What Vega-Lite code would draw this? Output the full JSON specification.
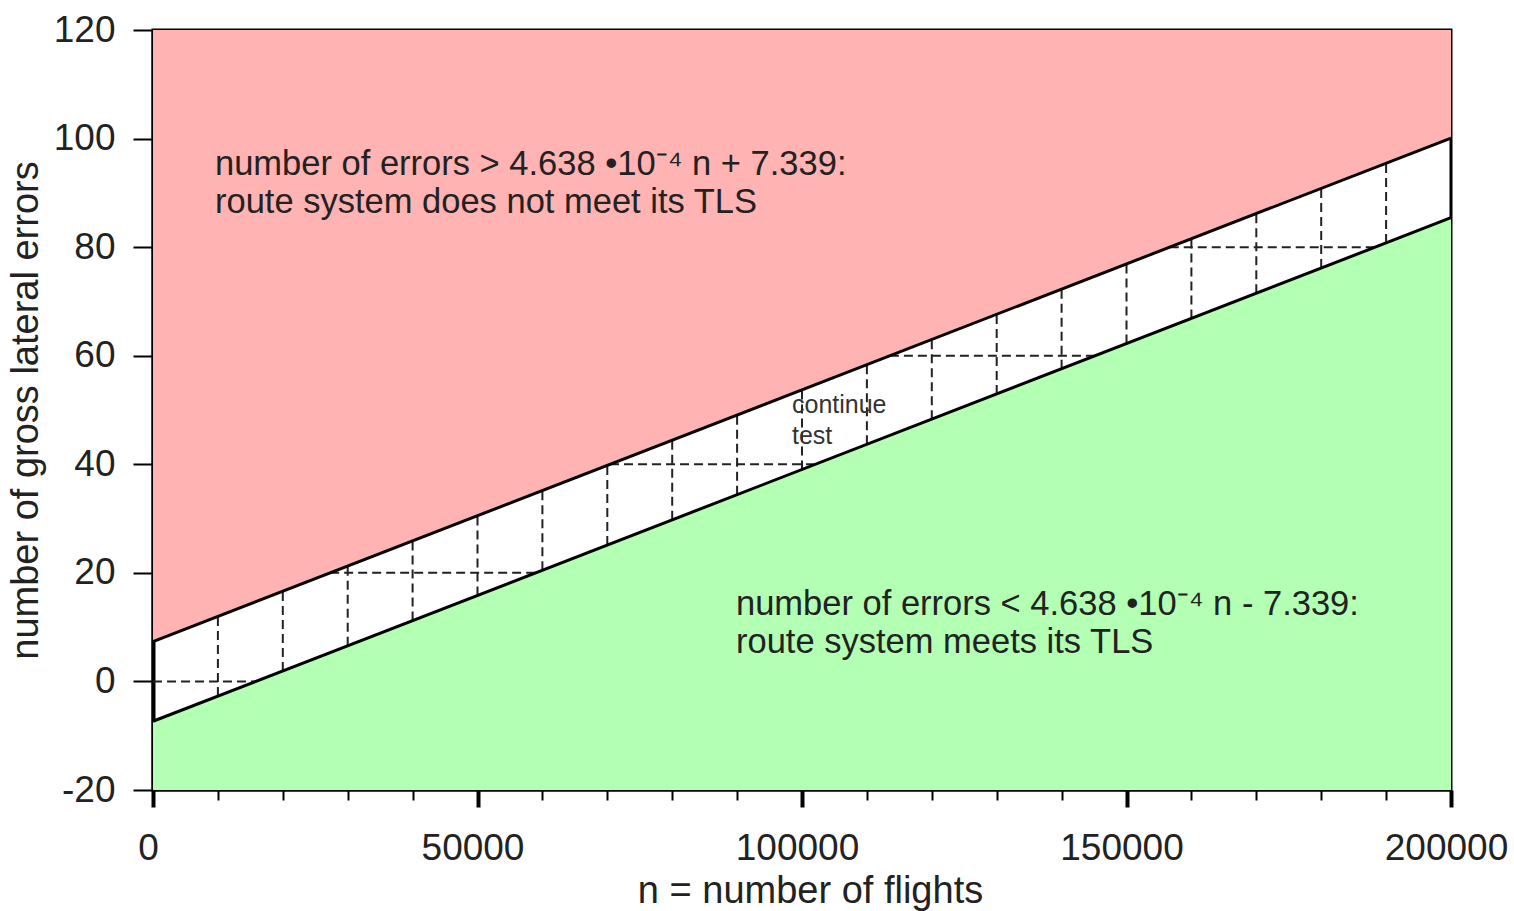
{
  "$schema": "https://vega.github.io/schema/vega-lite/v6.json",
  "width": 1298,
  "height": 760,
  "autosize": "none",
  "padding": {"left": 153, "top": 30, "right": 63, "bottom": 121},
  "background": "white",
  "config": {"view": {"stroke": "black", "strokeWidth": 3}, "font": "Liberation Sans"},
  "datasets": {
    "bands": [
      {"n": 0, "up": 7.339, "lo": -7.339},
      {"n": 200000, "up": 100.099, "lo": 85.421}
    ],
    "grid": [
      {"n": 0, "n2": 15824, "v": 0, "v2": 0},
      {"n": 27298, "n2": 58946, "v": 20, "v2": 20},
      {"n": 70420, "n2": 102068, "v": 40, "v2": 40},
      {"n": 113542, "n2": 145190, "v": 60, "v2": 60},
      {"n": 156663, "n2": 188312, "v": 80, "v2": 80},
      {"n": 10000, "n2": 10000, "v": -2.701, "v2": 11.977},
      {"n": 20000, "n2": 20000, "v": 1.937, "v2": 16.615},
      {"n": 30000, "n2": 30000, "v": 6.575, "v2": 21.253},
      {"n": 40000, "n2": 40000, "v": 11.213, "v2": 25.891},
      {"n": 50000, "n2": 50000, "v": 15.851, "v2": 30.529},
      {"n": 60000, "n2": 60000, "v": 20.489, "v2": 35.167},
      {"n": 70000, "n2": 70000, "v": 25.127, "v2": 39.805},
      {"n": 80000, "n2": 80000, "v": 29.765, "v2": 44.443},
      {"n": 90000, "n2": 90000, "v": 34.403, "v2": 49.081},
      {"n": 100000, "n2": 100000, "v": 39.041, "v2": 53.719},
      {"n": 110000, "n2": 110000, "v": 43.679, "v2": 58.357},
      {"n": 120000, "n2": 120000, "v": 48.317, "v2": 62.995},
      {"n": 130000, "n2": 130000, "v": 52.955, "v2": 67.633},
      {"n": 140000, "n2": 140000, "v": 57.593, "v2": 72.271},
      {"n": 150000, "n2": 150000, "v": 62.231, "v2": 76.909},
      {"n": 160000, "n2": 160000, "v": 66.869, "v2": 81.547},
      {"n": 170000, "n2": 170000, "v": 71.507, "v2": 86.185},
      {"n": 180000, "n2": 180000, "v": 76.145, "v2": 90.823},
      {"n": 190000, "n2": 190000, "v": 80.783, "v2": 95.461}
    ],
    "notes": [
      {"n": 9550, "v": 93.3, "t": "number of errors > 4.638 •10⁻⁴ n + 7.339:"},
      {"n": 9550, "v": 86.3, "t": "route system does not meet its TLS"},
      {"n": 89830, "v": 12.3, "t": "number of errors < 4.638 •10⁻⁴ n - 7.339:"},
      {"n": 89830, "v": 5.2, "t": "route system meets its TLS"}
    ],
    "small": [
      {"n": 98460, "v": 49.4, "t": "continue"},
      {"n": 98460, "v": 43.7, "t": "test"}
    ]
  },
  "layer": [
    {
      "data": {"name": "bands"},
      "mark": {"type": "area", "color": "#ffb3b3", "opacity": 1},
      "encoding": {
        "x": {
          "field": "n", "type": "quantitative",
          "scale": {"domain": [0, 200000], "nice": false, "zero": false},
          "title": "n = number of flights",
          "axis": {
            "values": [0, 10000, 20000, 30000, 40000, 50000, 60000, 70000, 80000, 90000, 100000, 110000, 120000, 130000, 140000, 150000, 160000, 170000, 180000, 190000, 200000],
            "format": "d",
            "labelExpr": "datum.value % 50000 === 0 ? datum.label : ''",
            "labelFontSize": 37,
            "labelColor": "#222",
            "labelPadding": 23,
            "labelOffset": -5,
            "labelOverlap": false,
            "labelFlush": false,
            "tickSize": {"condition": {"test": "datum.value % 50000 === 0", "value": 17}, "value": 10},
            "tickWidth": {"condition": {"test": "datum.value % 50000 === 0", "value": 4}, "value": 2},
            "tickColor": "black",
            "domainColor": "black",
            "domainWidth": 2,
            "grid": false,
            "titleFontSize": 38,
            "titleFontWeight": "normal",
            "titleColor": "#222",
            "titlePadding": 6,
            "titleX": 657
          }
        },
        "y": {
          "field": "up", "type": "quantitative",
          "scale": {"domain": [-20, 120], "nice": false, "zero": false},
          "title": "number of gross lateral errors",
          "axis": {
            "values": [-20, 0, 20, 40, 60, 80, 100, 120],
            "labelExpr": "'' + datum.value",
            "labelFontSize": 37,
            "labelColor": "#222",
            "labelPadding": 18,
            "labelFlush": false,
            "tickSize": 20,
            "tickWidth": 2,
            "tickColor": "black",
            "domainColor": "black",
            "domainWidth": 4,
            "grid": false,
            "titleFontSize": 38,
            "titleFontWeight": "normal",
            "titleColor": "#222",
            "titlePadding": 8
          }
        },
        "y2": {"datum": 120}
      }
    },
    {
      "data": {"name": "bands"},
      "mark": {"type": "area", "color": "#b3ffb3", "opacity": 1},
      "encoding": {
        "x": {"field": "n", "type": "quantitative"},
        "y": {"field": "lo", "type": "quantitative"},
        "y2": {"datum": -20}
      }
    },
    {
      "data": {"name": "grid"},
      "mark": {"type": "rule", "color": "#222", "strokeWidth": 2, "strokeDash": [9, 5]},
      "encoding": {
        "x": {"field": "n", "type": "quantitative"},
        "x2": {"field": "n2"},
        "y": {"field": "v", "type": "quantitative"},
        "y2": {"field": "v2"}
      }
    },
    {
      "data": {"name": "bands"},
      "mark": {"type": "line", "color": "black", "strokeWidth": 3},
      "encoding": {
        "x": {"field": "n", "type": "quantitative"},
        "y": {"field": "up", "type": "quantitative"}
      }
    },
    {
      "data": {"name": "bands"},
      "mark": {"type": "line", "color": "black", "strokeWidth": 3},
      "encoding": {
        "x": {"field": "n", "type": "quantitative"},
        "y": {"field": "lo", "type": "quantitative"}
      }
    },
    {
      "data": {"name": "notes"},
      "mark": {"type": "text", "align": "left", "baseline": "alphabetic", "fontSize": 34.5, "color": "#222"},
      "encoding": {
        "x": {"field": "n", "type": "quantitative"},
        "y": {"field": "v", "type": "quantitative"},
        "text": {"field": "t"}
      }
    },
    {
      "data": {"name": "small"},
      "mark": {"type": "text", "align": "left", "baseline": "alphabetic", "fontSize": 25, "color": "#333"},
      "encoding": {
        "x": {"field": "n", "type": "quantitative"},
        "y": {"field": "v", "type": "quantitative"},
        "text": {"field": "t"}
      }
    }
  ]
}
